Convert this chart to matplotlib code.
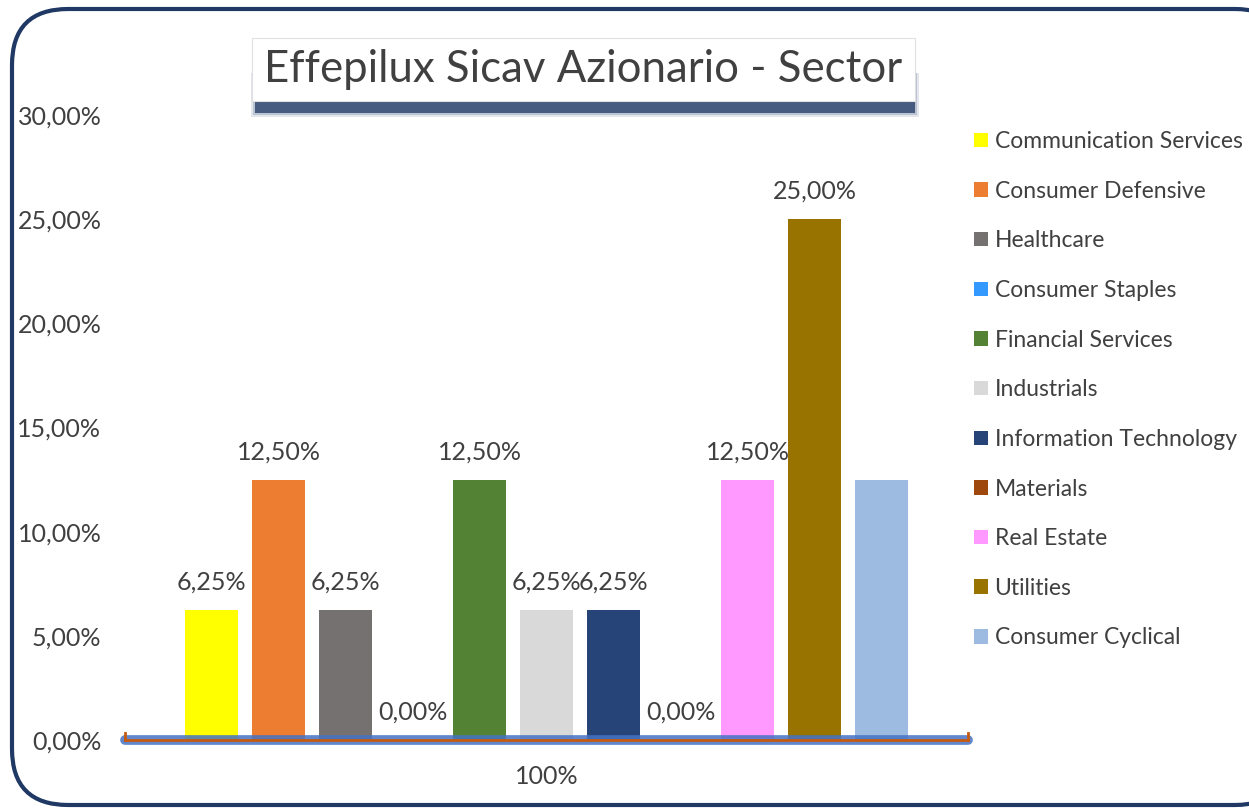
import numpy as np
import matplotlib.pyplot as plt
from matplotlib.patches import FancyBboxPatch, Patch

sectors = ['Communication Services', 'Consumer Defensive', 'Healthcare',
           'Consumer Staples', 'Financial Services', 'Industrials',
           'Information Technology', 'Materials', 'Real Estate',
           'Utilities', 'Consumer Cyclical']
weights = [6.25, 12.50, 6.25, 0.00, 12.50, 6.25, 6.25, 0.00, 12.50, 25.00, 12.50]
colors = ['#ffff00', '#ed7d31', '#767171', '#3399ff', '#548235', '#d9d9d9',
          '#264478', '#9e480e', '#ff99ff', '#997300', '#9dbbe0']
show_label = [True] * 10 + [False]
category = '100%'
title = 'Effepilux Sicav Azionario - Sector'

font = 'Lato'
txt = '#404040'
fs = 16.5     # legend
fs_lab = 18   # ticks and data labels

W, H = 1249, 809
fig = plt.figure(figsize=(W / 100, H / 100), dpi=100)

# rounded frame
frame = FancyBboxPatch((12 / W, 4 / H), (W + 30) / W, (H - 13) / H,
                       boxstyle='round,pad=0,rounding_size=0.045',
                       transform=fig.transFigure, facecolor='white',
                       edgecolor='#1f3864', linewidth=3, mutation_aspect=W / H,
                       zorder=-10)
fig.patches.append(frame)

ax = fig.add_axes([125 / W, 69 / H, 843 / W, 625 / H])
ax.set_facecolor('none')
x = np.arange(len(sectors))
ax.bar(x, weights, width=0.79, color=colors, zorder=2)
ax.set_xlim(-1.29, len(sectors) - 1 + 1.29)
ax.set_ylim(0, 30)
ax.set_yticks(np.arange(0, 31, 5))
ax.set_yticklabels([f'{v:.2f}%'.replace('.', ',') for v in np.arange(0, 31, 5)],
                   fontsize=fs_lab, color=txt, family=font)
ax.tick_params(axis='y', length=0, pad=17)
ax.set_xticks([])
for s in ax.spines.values():
    s.set_visible(False)

for xi, v, show in zip(x, weights, show_label):
    if show:
        ax.annotate(f'{v:.2f}%'.replace('.', ','), (xi, v), xytext=(0, 20),
                    textcoords='offset points', ha='center', va='center',
                    fontsize=fs_lab, color=txt, family=font)

# axis line: blue glow with orange core and end caps
xl = ax.get_xlim()
ax.plot(xl, [0, 0], color='#4472c4', lw=7, alpha=0.85, solid_capstyle='round',
        clip_on=False, zorder=3)
ax.plot(xl, [0, 0], color='#c55a11', lw=2, clip_on=False, zorder=4)
for xe in xl:
    ax.plot([xe, xe], [0, 0.35], color='#c55a11', lw=2, clip_on=False, zorder=4)

ax.text(np.mean(xl), -1.75, category, ha='center', va='center',
        fontsize=fs_lab, color=txt, family=font)

# title box with a soft shadow below it
for g, a in [(4, 0.12), (2, 0.2), (0, 0.75)]:
    fig.patches.append(FancyBboxPatch(((255 - g) / W, (H - 113 - g) / H),
                                      (660 + 2 * g) / W, (40 + g) / H,
                                      boxstyle='square,pad=0', transform=fig.transFigure,
                                      facecolor='#1f3864', edgecolor='none', alpha=a))
fig.patches.append(FancyBboxPatch((252 / W, (H - 101) / H), 663 / W, 63 / H,
                                  boxstyle='square,pad=0', transform=fig.transFigure,
                                  facecolor='white', edgecolor='#e0e0e0', lw=0.8))
fig.text(583 / W, (H - 69) / H, title, ha='center', va='center',
         fontsize=31.5, color=txt, family=font)

handles = [Patch(facecolor=c, edgecolor='none') for c in colors]
fig.legend(handles, sectors, loc='upper left', bbox_to_anchor=(974 / W, (H - 131) / H),
           frameon=False, handlelength=0.6, handleheight=0.6, handletextpad=0.3,
           labelspacing=1.25, borderpad=0, borderaxespad=0,
           prop={'family': font, 'size': fs}, labelcolor=txt)

fig.savefig('out.png', dpi=100)
